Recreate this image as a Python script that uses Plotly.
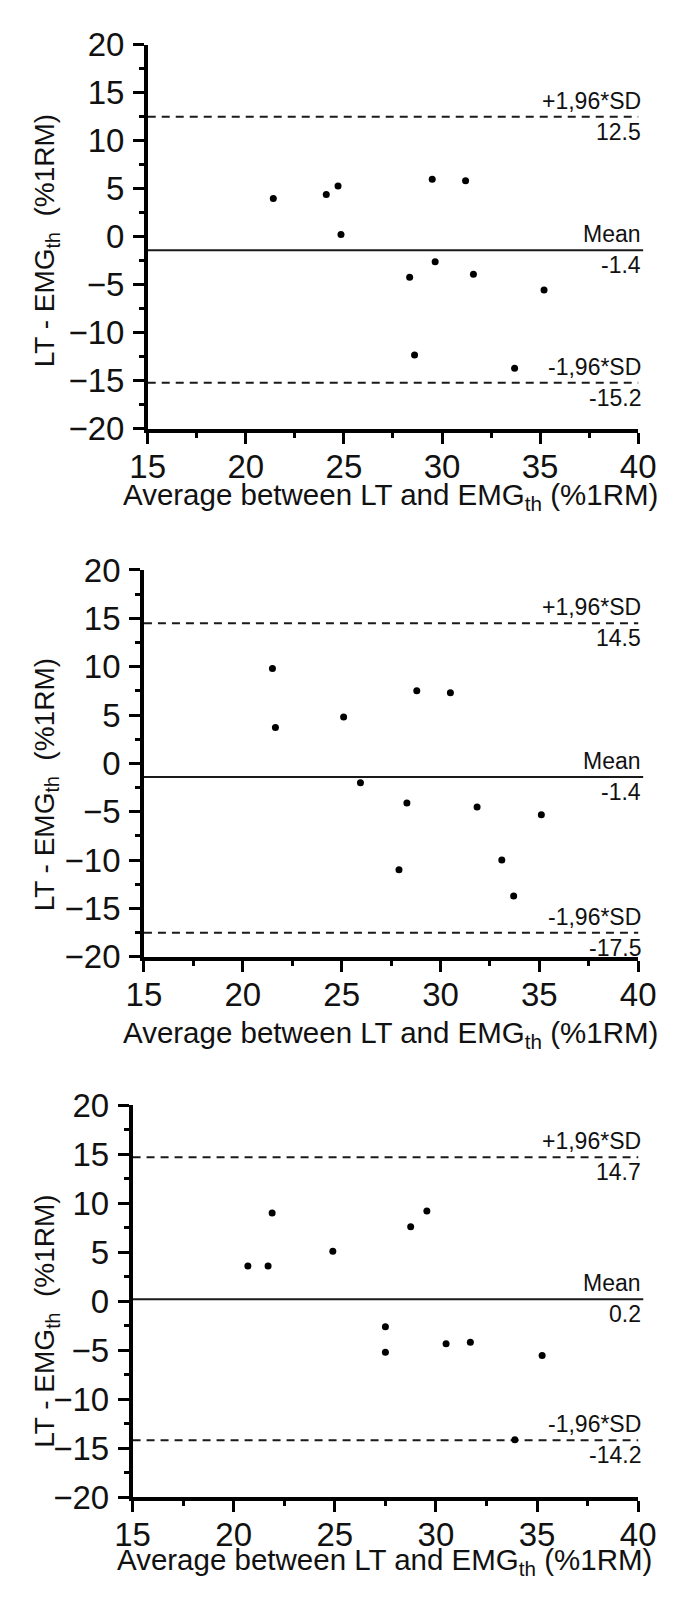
import plotly.graph_objects as go

# Bland-Altman data for the three comparisons (average vs difference, %1RM)
avg_1 = [21.4, 24.1, 24.7, 24.85, 29.5, 31.2, 28.35, 29.65, 31.6, 35.2, 28.6, 33.7]
diff_1 = [4.0, 4.4, 5.3, 0.25, 6.0, 5.85, -4.2, -2.6, -3.9, -5.55, -12.3, -13.7]

avg_2 = [21.5, 21.65, 25.1, 25.95, 28.8, 30.5, 28.3, 31.85, 35.1, 27.9, 33.1, 33.7]
diff_2 = [9.8, 3.7, 4.8, -2.0, 7.5, 7.3, -4.1, -4.5, -5.3, -11.0, -10.0, -13.7]

avg_3 = [20.7, 21.7, 21.9, 24.9, 27.5, 27.5, 28.75, 29.55, 30.5, 31.7, 35.25, 33.9]
diff_3 = [3.6, 3.6, 9.0, 5.1, -2.6, -5.2, 7.6, 9.2, -4.35, -4.2, -5.55, -14.15]

# Limits of agreement: upper, mean, lower
upper = [12.5, 14.5, 14.7]
mean = [-1.4, -1.4, 0.2]
lower = [-15.2, -17.5, -14.2]

x_ticks = [15, 20, 25, 30, 35, 40]
y_ticks = [-20, -15, -10, -5, 0, 5, 10, 15, 20]

W, H = 678, 1604
# plot-area boxes in pixels: (left, right, top, bottom)
boxes = [(137, 655, 27.5, 420.5), (133, 655, 565, 961), (121, 655, 1113, 1514)]
xtitle_y = [490, 1040, 1580]
ytitle_y = [228, 785, 1334]
xtitle_x = [393, 393, 387]

FONT = "Liberation Sans, Arial, sans-serif"
INK = "#111111"

fig = go.Figure()
series = [(avg_1, diff_1), (avg_2, diff_2), (avg_3, diff_3)]

for i, ((xs, ys), (l, r, t, b)) in enumerate(zip(series, boxes)):
    n = "" if i == 0 else str(i + 1)
    xa, ya = "x" + n, "y" + n
    fig.add_trace(go.Scatter(
        x=xs, y=ys, mode="markers", xaxis=xa, yaxis=ya,
        marker=dict(color="black", size=7), showlegend=False, hoverinfo="skip"))

    axis_common = dict(
        showline=True, linewidth=3.5, linecolor="black", mirror=False,
        showgrid=False, zeroline=False, ticks="outside", ticklen=11,
        tickwidth=3, tickcolor="black",
        tickfont=dict(family=FONT, size=33, color=INK),
        minor=dict(ticks="outside", ticklen=5, tickwidth=3, tickcolor="black",
                   dtick=2.5, tick0=0, showgrid=False),
    )
    fig.update_layout(**{
        "xaxis" + n: dict(domain=[l / W, r / W], range=[15, 40], anchor=ya,
                          tickvals=x_ticks, ticklabelstandoff=-5, **axis_common),
        "yaxis" + n: dict(domain=[1 - b / H, 1 - t / H], range=[-20, 20], anchor=xa,
                          tickvals=y_ticks, ticklabelstandoff=2, **axis_common),
    })

    xd = xa + " domain"
    # limits of agreement (dashed) and mean difference (solid)
    for val, dash, width in [(upper[i], "8px,6px", 2.0), (lower[i], "8px,6px", 2.0),
                             (mean[i], "solid", 2.0)]:
        fig.add_shape(type="line", xref=xd, yref=ya, x0=0, x1=1.01 if dash == "solid" else 1,
                      y0=val, y1=val, line=dict(color="#1a1a1a", width=width, dash=dash),
                      layer="below")

    labels = [("+1,96*SD", upper[i]), ("Mean", mean[i]), ("-1,96*SD", lower[i])]
    for name, val in labels:
        fig.add_annotation(xref=xd, yref=ya, x=1, y=val, text=name, showarrow=False,
                           xanchor="right", yanchor="bottom", xshift=5, yshift=1,
                           font=dict(family=FONT, size=23, color=INK))
        fig.add_annotation(xref=xd, yref=ya, x=1, y=val, text=f"{val:.1f}", showarrow=False,
                           xanchor="right", yanchor="top", xshift=5, yshift=0,
                           font=dict(family=FONT, size=23, color=INK))

    # axis titles
    fig.add_annotation(xref="paper", yref="paper", x=xtitle_x[i] / W, y=1 - xtitle_y[i] / H,
                       text="Average between LT and EMG<sub>th</sub> (%1RM)", showarrow=False,
                       xanchor="center", yanchor="middle",
                       font=dict(family=FONT, size=29.5, color=INK))
    fig.add_annotation(xref="paper", yref="paper", x=30 / W, y=1 - ytitle_y[i] / H,
                       text="LT - EMG<sub>th</sub>  (%1RM)", showarrow=False, textangle=-90,
                       xanchor="center", yanchor="middle",
                       font=dict(family=FONT, size=28, color=INK))

fig.update_layout(
    width=W, height=H, margin=dict(l=0, r=0, t=0, b=0),
    paper_bgcolor="white", plot_bgcolor="white", showlegend=False,
)

fig.write_html("out.html")
